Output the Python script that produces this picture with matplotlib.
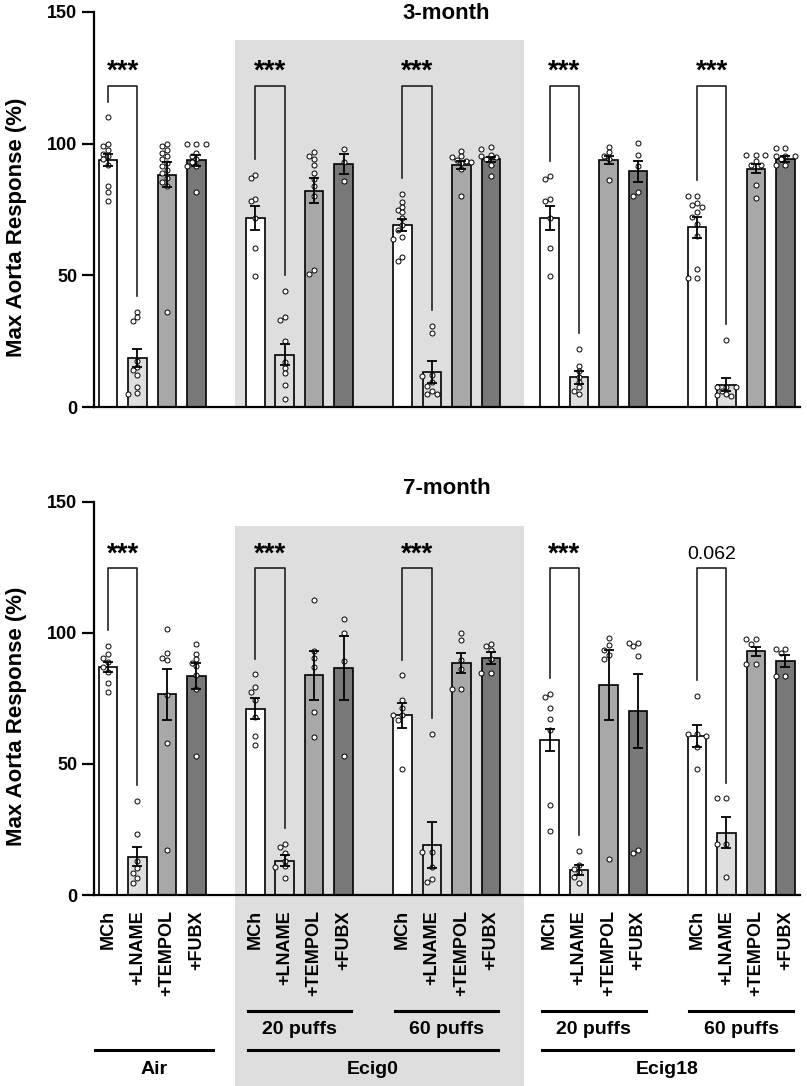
import matplotlib

matplotlib.use("Agg")
import matplotlib.pyplot as plt
from matplotlib.patches import Rectangle

plt.rcParams["font.family"] = ["Liberation Sans", "DejaVu Sans"]

# ---- data -------------------------------------------------------------
treatments = ["MCh", "+LNAME", "+TEMPOL", "+FUBX"]
bar_colors = ["#ffffff", "#dedede", "#a8a8a8", "#787878"]
puff_labels = ["", "20 puffs", "60 puffs", "20 puffs", "60 puffs"]
exposure_labels = ["Air", "Ecig0", "Ecig18"]
exposure_members = [[0], [1, 2], [3, 4]]
yticks = [0, 50, 100, 150]

# rows: Air, Ecig0 20, Ecig0 60, Ecig18 20, Ecig18 60 ; cols: treatments
means_3m = [
    [93.9, 18.6, 88.2, 93.7],
    [71.8, 19.9, 82.2, 92.3],
    [69.2, 13.3, 92.0, 94.0],
    [71.8, 11.3, 93.7, 89.5],
    [68.2, 8.4, 90.5, 94.2],
]
sem_3m = [
    [2.2, 3.4, 4.7, 2.0],
    [4.4, 4.0, 4.7, 3.7],
    [2.2, 4.0, 1.6, 1.1],
    [4.4, 2.5, 1.6, 3.9],
    [4.0, 2.5, 1.7, 1.0],
]
points_3m = [
    [[110, 100, 99, 97.5, 96.2, 95.2, 94, 92, 83.8, 81.5, 78.2],
     [36.2, 34.3, 32.8, 17.5, 15.3, 14, 12.2, 7.7, 5.5, 5],
     [100, 99, 97.7, 96.5, 95.2, 94, 92.7, 91.4, 90.1, 88.9, 87, 85.3, 83.8, 36],
     [100, 100, 100, 96.5, 95.5, 94, 93, 91.4, 91.4, 81.5]],
    [[88, 87, 79.1, 78.1, 71.8, 60.4, 49.6],
     [44, 34, 33, 25, 17, 15, 13, 8.4, 3],
     [97, 95.4, 94, 92, 89, 86.7, 83.8, 80, 52.2, 50.6],
     [98.1, 93, 85.7]],
    [[80.9, 77.9, 76, 75, 74, 71.8, 69, 67.3, 64.4, 63.8, 56.8, 55.6],
     [30.8, 28, 12, 11.8, 9.6, 8, 6, 5, 5],
     [97.1, 95.2, 94.8, 93.7, 93.3, 93, 92.5, 90.5, 80.3],
     [98.6, 98, 95.8, 95.2, 94.8, 94.2, 92, 87.8]],
    [[87.6, 86.7, 79.1, 78.1, 71.8, 60.4, 49.6],
     [22, 15.7, 13.8, 11.5, 9.6, 7.5, 6, 5],
     [98.7, 96.7, 95.2, 94, 86.3],
     [100.3, 95.8, 91.4, 81.5, 80]],
    [[80.3, 80.3, 77.5, 76.6, 76, 74, 72.2, 69.6, 64.8, 52.3, 49, 49],
     [25.4, 7.7, 7.7, 7.7, 6, 5, 4.5, 4],
     [95.8, 95.8, 95.8, 93.3, 92, 92, 84.4, 79.4],
     [98.4, 98.4, 95.2, 95.2, 95.2, 94.2, 91.8, 91.8]],
]
sig_3m = ["***", "***", "***", "***", "***"]

means_7m = [
    [87.0, 14.6, 76.6, 83.5],
    [71.1, 13.1, 83.8, 86.6],
    [68.6, 19.1, 88.6, 90.5],
    [59.0, 9.5, 80.3, 70.2],
    [60.7, 23.8, 93.0, 89.3],
]
sem_7m = [
    [1.8, 3.6, 9.8, 4.9],
    [4.0, 2.2, 9.3, 12.1],
    [4.8, 8.9, 3.8, 2.2],
    [4.2, 2.0, 13.4, 14.2],
    [4.1, 5.9, 1.7, 2.4],
]
points_7m = [
    [[95, 92.1, 90.6, 88.9, 87, 85.1, 81, 77.5],
     [35.9, 23.2, 13, 10.2, 8.3, 6.4, 4.7],
     [101.7, 92.4, 90.6, 89.6, 76.2, 58, 17.2],
     [95.7, 92.1, 90, 88.5, 87.3, 83.8, 78.5, 53]],
    [[84.2, 79.4, 77.5, 74.5, 68, 60.7, 57.1],
     [19.5, 18.2, 16, 13, 11, 10.8, 6.5],
     [112.7, 93.1, 90.6, 87, 69.8, 60.3],
     [105.5, 100, 89.2, 53]],
    [[83.8, 74.5, 71.5, 68.8, 68.8, 66.9, 48],
     [61.6, 16.5, 16.5, 10.6, 6, 5.1],
     [100, 97.2, 89.6, 86.4, 78.5, 78.5],
     [95.9, 95, 93.4, 90.2, 84.9, 84.9]],
    [[76.8, 75.6, 71.4, 67, 63.1, 34.3, 24.5],
     [16.9, 11.5, 10, 8.9, 7, 4.5],
     [98.2, 95.3, 93.4, 91.7, 90.2, 13.7],
     [96.3, 96.3, 95, 91.2, 17.2, 16.1]],
    [[76, 61.3, 61.3, 60.7, 56.5, 48],
     [36.9, 36.9, 19.5, 19.5, 7],
     [97.6, 97.6, 95.7, 88, 88],
     [94, 94, 92.4, 83.6, 83.6]],
]
sig_7m = ["***", "***", "***", "***", "0.062"]

# ---- layout -----------------------------------------------------------
W, H = 807, 1086
PX_X = 29.45          # pixels per bar slot
BAR_W = 0.63
XLIM = (-0.475, 23.5)


def swarm(values, ppy, d=5.0, step=0.16):
    placed = []
    offsets = []
    for v in values:
        for cand in (0, -step, step, -2 * step, 2 * step):
            if all(((cand - o) * PX_X) ** 2 + ((v - w) * ppy) ** 2 >= d * d for o, w in placed):
                break
        placed.append((cand, v))
        offsets.append(cand)
    return offsets


def draw_panel(ax, means, sems, points, sigs, title, title_y, bracket_y, ppy, shade_bottom, shade_top):
    ax.add_patch(Rectangle((4.31, shade_bottom), 14.13 - 4.31, shade_top - shade_bottom,
                           facecolor="#dedede", edgecolor="none", zorder=0, clip_on=False))
    for g in range(5):
        for t in range(4):
            x = g * 5 + t
            ax.bar(x, means[g][t], width=BAR_W, color=bar_colors[t], edgecolor="black",
                   linewidth=1.2, zorder=2)
            vals = sorted(points[g][t], reverse=True)
            offs = swarm(vals, ppy)
            ax.scatter([x + o for o in offs], vals, s=13, facecolor="white", edgecolor="black",
                       linewidth=0.7, zorder=3)
            ax.errorbar(x, means[g][t], yerr=sems[g][t], color="black", elinewidth=1.3,
                        capsize=3.5, capthick=1.3, zorder=4)
        # significance bracket MCh vs +LNAME
        x0, x1 = g * 5, g * 5 + 1
        y0 = max(points[g][0]) + 6
        y1 = max(points[g][1]) + 6
        ax.plot([x0, x0, x1, x1], [y0, bracket_y, bracket_y, y1], color="#222222", lw=1.2, zorder=5)
        if sigs[g] == "***":
            ax.text((x0 + x1) / 2, bracket_y + 5.3, sigs[g], ha="center", va="center",
                    fontsize=20, fontweight="bold")
        else:
            ax.text((x0 + x1) / 2, bracket_y + 5.3, sigs[g], ha="center", va="center", fontsize=14)

    ax.text(11.5, title_y, title, ha="center", va="center", fontsize=16, fontweight="bold",
            clip_on=False)
    ax.set_xlim(*XLIM)
    ax.set_ylim(0, 150)
    ax.set_yticks(yticks)
    ax.set_yticklabels([str(v) for v in yticks], fontweight="bold", fontsize=13)
    for side in ("top", "right"):
        ax.spines[side].set_visible(False)
    for side in ("left", "bottom"):
        ax.spines[side].set_linewidth(1.6)
        ax.spines[side].set_zorder(6)
    ax.tick_params(axis="y", length=9, width=1.6, pad=3)
    ax.tick_params(axis="x", length=0)
    ax.set_facecolor("none")


fig = plt.figure(figsize=(W / 100, H / 100), dpi=100)
ax_top = fig.add_axes([94 / W, 1 - 407 / H, 706 / W, 395 / H])
ax_bot = fig.add_axes([94 / W, 1 - 895 / H, 706 / W, 393 / H])

draw_panel(ax_top, means_3m, sem_3m, points_3m, sig_3m, "3-month", 149.5, 122, 395 / 150,
           0, 139.5)
draw_panel(ax_bot, means_7m, sem_7m, points_7m, sig_7m, "7-month", 155.3, 124.7, 393 / 150,
           -75, 141)

ax_top.set_xticks([])
positions = [g * 5 + t for g in range(5) for t in range(4)]
ax_bot.set_xticks(positions)
ax_bot.set_xticklabels(treatments * 5, rotation=90, fontsize=13, fontweight="bold", va="top")
ax_bot.tick_params(axis="x", pad=11)

# group annotations below the bottom panel (data units of the bottom axes)
ppy = 393 / 150


def y_of(px):
    return (895 - px) / ppy


for g in range(1, 5):
    c = g * 5 + 1.5
    ax_bot.plot([c - 1.76, c + 1.76], [y_of(1011)] * 2, color="black", lw=2.2, clip_on=False)
    ax_bot.text(c, y_of(1029), puff_labels[g], ha="center", va="center", fontsize=14,
                fontweight="bold")
for label, members in zip(exposure_labels, exposure_members):
    if len(members) == 1:
        left, right = -0.45, 3.55
    else:
        left = members[0] * 5 + 1.5 - 1.76
        right = members[-1] * 5 + 1.5 + 1.76
    ax_bot.plot([left, right], [y_of(1050)] * 2, color="black", lw=2.2, clip_on=False)
    ax_bot.text((left + right) / 2, y_of(1070), label, ha="center", va="center", fontsize=14,
                fontweight="bold")

for cy in (227, 716):
    fig.text(17 / W, 1 - cy / H, "Max Aorta Response (%)", rotation=90, ha="center",
             va="center", fontsize=16, fontweight="bold")

fig.savefig("out.png", dpi=100)
